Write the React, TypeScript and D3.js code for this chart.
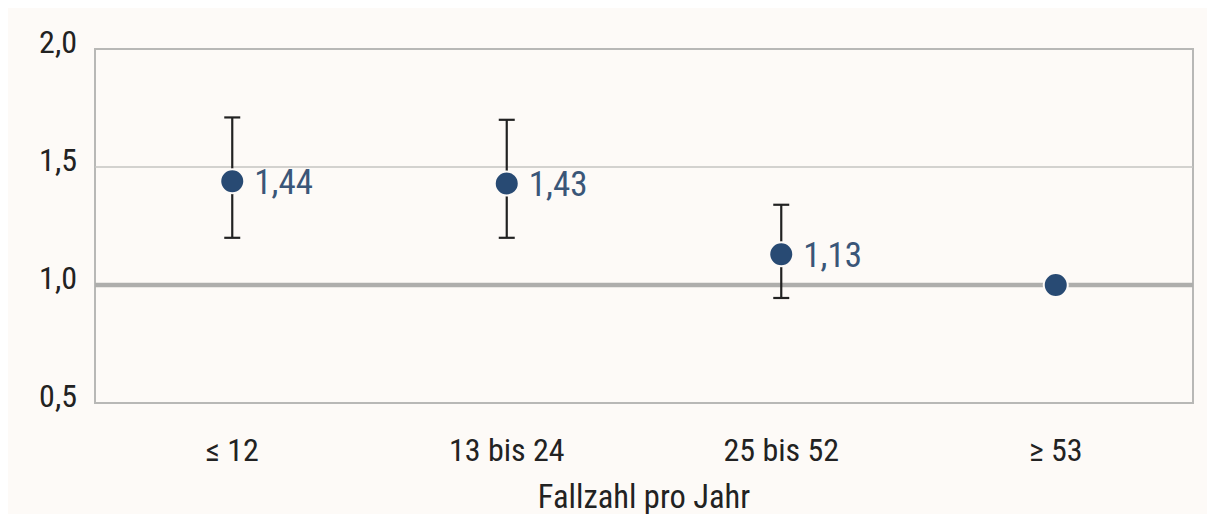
import React, { useEffect, useRef } from 'react';
import * as d3 from 'd3';

const categories = ['≤ 12', '13 bis 24', '25 bis 52', '≥ 53'];
const estimates = [1.44, 1.43, 1.13, 1.0];
const lowerCI = [1.2, 1.2, 0.945, null];
const upperCI = [1.71, 1.7, 1.34, null];
const yTicks = [0.5, 1.0, 1.5, 2.0];
const xTitle = 'Fallzahl pro Jahr';

const W = 1215;
const H = 522;
const FONT = "'Liberation Sans Narrow', 'Roboto Condensed', 'Liberation Sans', sans-serif";

export default function App() {
  const svgRef = useRef<SVGSVGElement>(null);

  useEffect(() => {
    if (!svgRef.current) return;
    const svg = d3.select(svgRef.current);
    svg.selectAll('*').remove();

    const margin = { top: 49, right: 22, bottom: 119, left: 95 };
    const innerW = W - margin.left - margin.right;
    const innerH = H - margin.top - margin.bottom;

    svg.append('rect').attr('width', W).attr('height', H).attr('fill', '#fdfaf7');

    const x = d3.scaleBand<string>().domain(categories).range([0, innerW]);
    const y = d3.scaleLinear().domain([0.5, 2.0]).range([innerH, 0]);

    const g = svg.append('g').attr('transform', `translate(${margin.left},${margin.top})`);

    // Rahmen
    g.append('rect')
      .attr('width', innerW)
      .attr('height', innerH)
      .attr('fill', 'none')
      .attr('stroke', '#b8b8b6')
      .attr('stroke-width', 2);

    // Gitterlinie 1,5
    g.append('line')
      .attr('x1', 0).attr('x2', innerW)
      .attr('y1', y(1.5)).attr('y2', y(1.5))
      .attr('stroke', '#c4c4c2').attr('stroke-width', 1.5);

    // Referenzlinie 1,0
    g.append('line')
      .attr('x1', 0).attr('x2', innerW)
      .attr('y1', y(1.0)).attr('y2', y(1.0))
      .attr('stroke', '#aeaeac').attr('stroke-width', 4.5);

    // Y-Achse Beschriftung
    g.selectAll('text.ytick')
      .data(yTicks)
      .join('text')
      .attr('class', 'ytick')
      .attr('x', -18)
      .attr('y', d => y(d))
      .attr('dy', '0.12em')
      .attr('text-anchor', 'end')
      .attr('font-family', FONT)
      .attr('font-size', 32)
      .attr('fill', '#222')
      .text(d => d3.format('.1f')(d).replace('.', ','));

    // X-Achse Beschriftung
    g.selectAll('text.xtick')
      .data(categories)
      .join('text')
      .attr('class', 'xtick')
      .attr('x', d => (x(d) || 0) + x.bandwidth() / 2)
      .attr('y', innerH + 58)
      .attr('text-anchor', 'middle')
      .attr('font-family', FONT)
      .attr('font-size', 32)
      .attr('fill', '#222')
      .text(d => d);

    g.append('text')
      .attr('x', innerW / 2)
      .attr('y', innerH + 105)
      .attr('text-anchor', 'middle')
      .attr('font-family', FONT)
      .attr('font-size', 32.5)
      .attr('fill', '#222')
      .text(xTitle);

    const rows = categories.map((c, i) => ({
      c, est: estimates[i], lo: lowerCI[i], hi: upperCI[i],
    }));

    // Fehlerbalken
    const eb = g.selectAll('g.eb')
      .data(rows.filter(r => r.lo != null && r.hi != null))
      .join('g')
      .attr('class', 'eb')
      .attr('transform', d => `translate(${(x(d.c) || 0) + x.bandwidth() / 2},0)`);

    eb.append('line')
      .attr('y1', d => y(d.hi as number)).attr('y2', d => y(d.lo as number))
      .attr('stroke', '#222').attr('stroke-width', 2.2);
    eb.append('line')
      .attr('x1', -8).attr('x2', 8)
      .attr('y1', d => y(d.hi as number)).attr('y2', d => y(d.hi as number))
      .attr('stroke', '#222').attr('stroke-width', 2.2);
    eb.append('line')
      .attr('x1', -8).attr('x2', 8)
      .attr('y1', d => y(d.lo as number)).attr('y2', d => y(d.lo as number))
      .attr('stroke', '#222').attr('stroke-width', 2.2);

    // Punkte
    g.selectAll('circle.pt')
      .data(rows)
      .join('circle')
      .attr('class', 'pt')
      .attr('cx', d => (x(d.c) || 0) + x.bandwidth() / 2)
      .attr('cy', d => y(d.est))
      .attr('r', 12)
      .attr('fill', '#284a73')
      .attr('stroke', '#fdfaf7')
      .attr('stroke-width', 2);

    // Werte
    g.selectAll('text.val')
      .data(rows.filter(r => r.lo != null))
      .join('text')
      .attr('class', 'val')
      .attr('x', d => (x(d.c) || 0) + x.bandwidth() / 2 + 22)
      .attr('y', d => y(d.est))
      .attr('dy', '0.36em')
      .attr('font-family', FONT)
      .attr('font-size', 35)
      .attr('fill', '#3a5678')
      .text(d => d3.format('.2f')(d.est).replace('.', ','));
  }, []);

  return (
    <div style={{ margin: -8, width: W, height: H }}>
      <svg ref={svgRef} width={W} height={H} style={{ display: 'block' }} />
    </div>
  );
}
